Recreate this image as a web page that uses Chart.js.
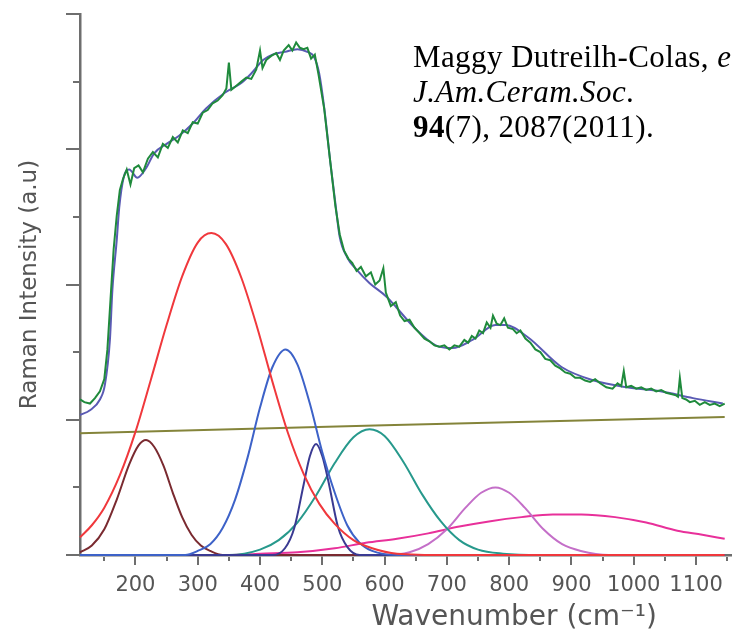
<!DOCTYPE html>
<html>
<head>
<meta charset="utf-8">
<script src="https://cdn.jsdelivr.net/npm/chart.js@4.4.1/dist/chart.umd.min.js"></script>
<style>
  html, body { margin: 0; padding: 0; background: #fff; overflow: hidden; }
  #wrap { position: relative; width: 732px; height: 631px; overflow: hidden; }
  #chart { position: absolute; left: 0; top: 0; }
  #ref {
    position: absolute; left: 413px; top: 39px;
    font-family: "Liberation Serif", "Times New Roman", serif;
    font-size: 31px; line-height: 35px; letter-spacing: 0.4px; color: #000; white-space: nowrap;
  }
</style>
</head>
<body>
<div id="wrap">
  <canvas id="chart" width="980" height="631"></canvas>
  <div id="ref">Maggy Dutreilh-Colas, <i>et al.</i><br><i>J.Am.Ceram.Soc</i>.<br><b>94</b>(7), 2087(2011).</div>
</div>
<script>
// wavenumber (cm-1), intensity (a.u.) pairs

const measured = [
  [111,1.15],[118,1.13],[127,1.12],[135,1.16],[143,1.21],[150,1.30],[155,1.52],[160,1.89],[165,2.26],[170,2.51],
  [175,2.70],[180,2.78],[186,2.85],[192,2.74],[198,2.86],[205,2.88],[212,2.83],[220,2.93],[228,2.98],[236,2.94],
  [244,3.04],[252,3.01],[260,3.09],[268,3.05],[276,3.14],[284,3.12],[292,3.20],[300,3.19],[308,3.27],[316,3.29],
  [324,3.34],[332,3.36],[340,3.40],[346,3.45],[350,3.64],[354,3.44],[362,3.47],[370,3.50],[378,3.53],[386,3.52],
  [394,3.59],[400,3.73],[404,3.60],[410,3.66],[418,3.69],[426,3.71],[432,3.66],[438,3.73],[446,3.77],[452,3.73],
  [458,3.79],[464,3.75],[470,3.74],[476,3.75],[482,3.67],[488,3.70],[494,3.55],[503,3.30],[513,2.90],[521,2.58],
  [528,2.37],[535,2.25],[542,2.19],[548,2.16],[555,2.10],[562,2.13],[570,2.06],[578,2.09],[585,2.00],[592,2.03],
  [598,2.12],[602,1.94],[610,1.84],[618,1.87],[625,1.77],[632,1.73],[640,1.74],[648,1.68],[656,1.64],[664,1.60],
  [672,1.58],[680,1.55],[688,1.54],[696,1.55],[704,1.52],[712,1.55],[720,1.54],[728,1.59],[734,1.57],[740,1.62],
  [746,1.60],[752,1.66],[758,1.64],[764,1.72],[770,1.68],[774,1.77],[780,1.71],[786,1.70],[792,1.75],[798,1.68],
  [806,1.67],[812,1.64],[818,1.66],[826,1.60],[834,1.57],[842,1.52],[850,1.50],[858,1.45],[866,1.44],[874,1.40],
  [882,1.38],[890,1.35],[898,1.34],[906,1.31],[914,1.31],[922,1.29],[930,1.28],[938,1.30],[946,1.27],[956,1.24],
  [966,1.23],[974,1.27],[980,1.25],[984,1.36],[988,1.24],[996,1.25],[1004,1.23],[1012,1.24],[1020,1.22],[1028,1.23],
  [1036,1.21],[1044,1.22],[1052,1.20],[1060,1.19],[1068,1.18],[1071,1.17],[1074,1.31],[1078,1.16],[1084,1.15],[1090,1.13],
  [1098,1.14],[1106,1.11],[1114,1.13],[1122,1.11],[1130,1.12],[1138,1.10],[1146,1.12]
];

const fitted = [
  [111,1.035],[127,1.07],[143,1.15],[151,1.26],[159,1.59],[163,1.96],[170,2.33],[174,2.57],[181,2.79],[190,2.85],
  [203,2.79],[217,2.86],[230,2.97],[250,3.04],[270,3.10],[294,3.20],[313,3.30],[344,3.42],[370,3.49],[386,3.56],
  [405,3.66],[420,3.70],[440,3.72],[460,3.74],[476,3.72],[487,3.68],[495,3.56],[503,3.31],[513,2.90],[521,2.60],
  [528,2.35],[540,2.20],[555,2.11],[576,2.01],[603,1.91],[619,1.83],[646,1.69],[682,1.55],[709,1.53],[741,1.59],
  [778,1.70],[794,1.70],[830,1.61],[884,1.39],[936,1.29],[989,1.24],[1043,1.21],[1095,1.16],[1143,1.12]
];

const baseline = [[111,0.90],[600,0.96],[1146,1.02]];

const band217 = [
  [111,0.02],[130,0.07],[150,0.19],[170,0.41],[190,0.67],[205,0.81],[217,0.85],[230,0.80],[245,0.66],[260,0.46],
  [275,0.28],[290,0.15],[305,0.07],[320,0.03],[340,0.00],[1146,0.00]
];
const band322 = [
  [111,0.13],[130,0.22],[150,0.35],[175,0.59],[200,0.91],[225,1.30],[250,1.70],[275,2.06],[300,2.31],[322,2.38],
  [345,2.30],[370,2.05],[395,1.69],[420,1.28],[445,0.90],[470,0.60],[495,0.38],[520,0.23],[550,0.11],[580,0.05],
  [620,0.01],[700,0.00],[1146,0.00]
];
const band441 = [
  [111,0.00],[280,0.00],[300,0.03],[320,0.08],[340,0.20],[360,0.41],[380,0.72],[400,1.09],[420,1.39],[441,1.52],
  [460,1.41],[480,1.12],[500,0.76],[520,0.46],[540,0.22],[560,0.09],[580,0.03],[620,0.00],[1146,0.00]
];
const band490 = [
  [111,0.00],[420,0.00],[440,0.05],[455,0.20],[470,0.52],[480,0.73],[490,0.82],[500,0.73],[510,0.54],[525,0.21],
  [540,0.06],[560,0.00],[1146,0.00]
];
const band576 = [
  [111,0.00],[350,0.00],[400,0.04],[430,0.11],[460,0.24],[490,0.44],[520,0.68],[550,0.87],[576,0.93],[600,0.88],
  [630,0.69],[660,0.45],[690,0.25],[720,0.11],[750,0.04],[790,0.01],[850,0.00],[1146,0.00]
];
const band778 = [
  [111,0.00],[600,0.00],[640,0.02],[670,0.08],[700,0.19],[730,0.35],[755,0.46],[778,0.50],[800,0.46],[825,0.35],
  [855,0.19],[885,0.08],[915,0.03],[960,0.00],[1146,0.00]
];
const band900 = [
  [111,0.00],[350,0.00],[400,0.01],[460,0.02],[520,0.05],[570,0.09],[620,0.12],[670,0.16],[720,0.21],[770,0.25],
  [820,0.28],[870,0.30],[916,0.30],[970,0.28],[1020,0.24],[1070,0.18],[1110,0.15],[1146,0.12]
];

const xTicks = [200,300,400,500,600,700,800,900,1000,1100,1200,1300,1400,1500];
const xMinorTicks = [150,250,350,450,550,650,750,850,950,1050,1150,1250,1350,1450];
const yTicks = [0,1,2,3,4];
const yMinorTicks = [0.5,1.5,2.5,3.5];

const axisGrey = '#6e6e6e';
const textGrey = '#555555';

function pts(arr) { return arr.map(p => ({ x: p[0], y: p[1] })); }

function curve(data, color, smooth) {
  return {
    data: pts(data),
    borderColor: color,
    borderWidth: 2,
    pointRadius: 0,
    fill: false,
    clip: false,
    cubicInterpolationMode: smooth ? 'monotone' : 'default',
    tension: 0
  };
}

// short ticks between the labelled ones
const minorTicks = {
  id: 'minorTicks',
  afterDraw(chart) {
    const { ctx, scales: { x, y } } = chart;
    ctx.save();
    ctx.strokeStyle = axisGrey;
    ctx.lineWidth = 2;
    ctx.beginPath();
    xMinorTicks.forEach(v => {
      const px = Math.round(x.getPixelForValue(v));
      ctx.moveTo(px, y.bottom + 2);
      ctx.lineTo(px, y.bottom + 6);
    });
    yMinorTicks.forEach(v => {
      const py = Math.round(y.getPixelForValue(v));
      ctx.moveTo(x.left - 7, py);
      ctx.lineTo(x.left, py);
    });
    ctx.stroke();
    ctx.restore();
  }
};

new Chart(document.getElementById('chart'), {
  type: 'line',
  data: {
    datasets: [
      curve(measured, '#1f8a3c', false),
      curve(fitted, '#5a5ab4', true),
      curve(band322, '#f0383c', true),
      curve(band441, '#3d62c8', true),
      curve(band490, '#3a3a92', true),
      curve(band217, '#7a2a30', true),
      curve(band576, '#27998c', true),
      curve(band778, '#c46fc8', true),
      curve(band900, '#e8309a', true),
      curve(baseline, '#84843a', false)
    ]
  },
  options: {
    responsive: false,
    animation: false,
    devicePixelRatio: 1,
    layout: { padding: { top: 14, right: 22, left: 0, bottom: 0 } },
    plugins: { legend: { display: false }, tooltip: { enabled: false } },
    scales: {
      x: {
        type: 'linear',
        min: 111,
        max: 1505,
        afterBuildTicks: s => { s.ticks = xTicks.map(v => ({ value: v })); },
        afterFit: s => { s.height = 76; },
        border: { color: axisGrey, width: 2.5 },
        grid: { drawOnChartArea: false, tickLength: 10, color: axisGrey, lineWidth: 2 },
        ticks: {
          autoSkip: false, maxRotation: 0,
          callback: v => String(v),
          color: textGrey, padding: 8, font: { family: 'DejaVu Sans', size: 21 }
        },
        title: {
          display: true, text: 'Wavenumber (cm⁻¹)', color: textGrey,
          padding: { top: 0, bottom: -4 }, font: { family: 'DejaVu Sans', size: 28 }
        }
      },
      y: {
        min: 0,
        max: 4,
        afterBuildTicks: s => { s.ticks = yTicks.map(v => ({ value: v })); },
        afterFit: s => { s.width = 80; },
        border: { color: axisGrey, width: 2.5 },
        grid: { drawOnChartArea: false, tickLength: 14, color: axisGrey, lineWidth: 2 },
        ticks: { display: false },
        title: {
          display: true, text: 'Raman Intensity (a.u)', color: textGrey,
          padding: { top: 16, bottom: 0 }, font: { family: 'DejaVu Sans', size: 23 }
        }
      }
    }
  },
  plugins: [minorTicks]
});
</script>
</body>
</html>
